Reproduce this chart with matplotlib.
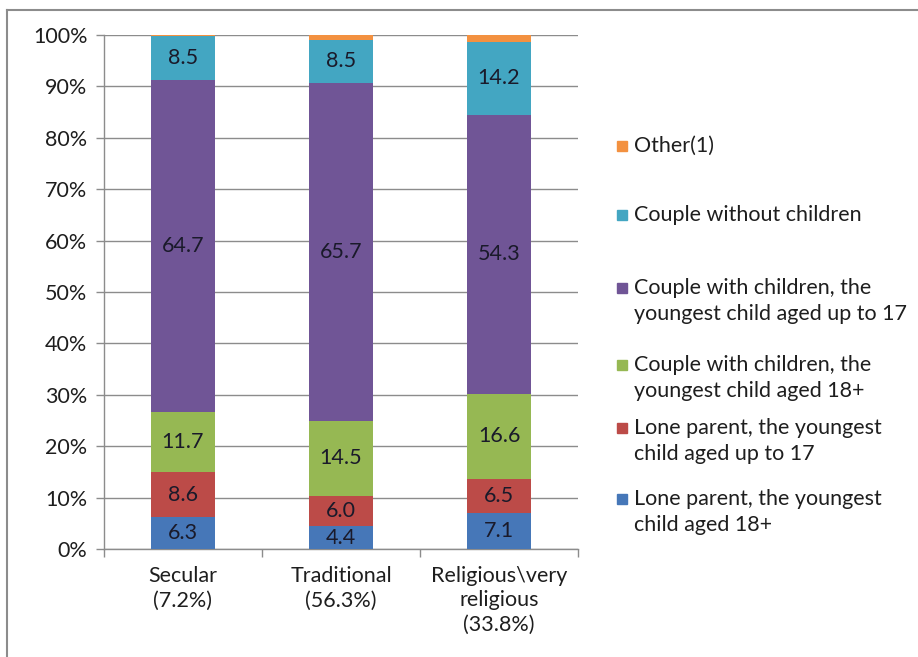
import matplotlib
matplotlib.use("Agg")
import matplotlib.pyplot as plt
from matplotlib.lines import Line2D
from matplotlib.patches import Rectangle
import numpy as np

plt.rcParams["font.family"] = ["Lato", "DejaVu Sans"]

groups = ["Secular\n(7.2%)", "Traditional\n(56.3%)", "Religious\\very\nreligious\n(33.8%)"]

series = [
    "Lone parent, the youngest\nchild aged 18+",
    "Lone parent, the youngest\nchild aged up to 17",
    "Couple with children, the\nyoungest child aged 18+",
    "Couple with children, the\nyoungest child aged up to 17",
    "Couple without children",
    "Other(1)",
]
lone_18 = [6.3, 4.4, 7.1]
lone_17 = [8.6, 6.0, 6.5]
couple_18 = [11.7, 14.5, 16.6]
couple_17 = [64.7, 65.7, 54.3]
couple_none = [8.5, 8.5, 14.2]
other = [0.2, 0.9, 1.3]
values = [lone_18, lone_17, couple_18, couple_17, couple_none, other]
labelled = [True, True, True, True, True, False]

colors = ["#4677b8", "#bc4b48", "#96b853", "#705596", "#43a6c2", "#f39140"]
FS = 15.5
TXT = "#1e1e1e"

fig = plt.figure(figsize=(9.18, 6.57), dpi=100)
ax = fig.add_axes([104 / 918, 108 / 657, 474 / 918, 514 / 657])

x = np.arange(len(groups))
bottom = np.zeros(len(groups))
for vals, col, show in zip(values, colors, labelled):
    vals = np.array(vals)
    ax.bar(x, vals, 0.4, bottom=bottom, color=col, zorder=3)
    if show:
        for xi, b, v in zip(x, bottom, vals):
            ax.text(xi, b + v / 2, f"{v:.1f}", ha="center", va="center",
                    fontsize=FS, color="#1a1a2a", zorder=4)
    bottom += vals

ax.set_xlim(-0.5, 2.5)
ax.set_ylim(0, 100)
ax.set_yticks(np.arange(0, 101, 10))
ax.set_yticklabels([f"{t}%" for t in range(0, 101, 10)], fontsize=FS, color=TXT)
ax.yaxis.grid(True, color="#8c8c8c", linewidth=1, zorder=0)

ax.set_xticks(x)
ax.set_xticklabels(groups, fontsize=FS, color=TXT, linespacing=1.3)
ax.set_xticks([-0.5, 0.5, 1.5, 2.5], minor=True)
ax.tick_params(axis="x", which="major", length=0, pad=12)
ax.tick_params(axis="x", which="minor", length=6, color="#8c8c8c", width=1)
ax.tick_params(axis="y", length=6, color="#8c8c8c", width=1, pad=6)

for side in ["top", "right"]:
    ax.spines[side].set_visible(False)
for side in ["left", "bottom"]:
    ax.spines[side].set_color("#8c8c8c")
    ax.spines[side].set_linewidth(1)

# legend, drawn in figure pixel coordinates from the top
legend_rows = [146, 215, 288, 365, 428, 499]
for name, col, ypix in zip(series[::-1], colors[::-1], legend_rows):
    yf = 1 - ypix / 657
    fig.patches.append(Rectangle((617 / 918, yf - 5 / 657), 10 / 918, 10 / 657,
                                 transform=fig.transFigure, color=col))
    fig.text(634 / 918, yf + 10 / 657, name, ha="left", va="top", fontsize=FS,
             color=TXT, linespacing=1.4)

# chart frame
fig.add_artist(Line2D([7 / 918, 1], [1 - 10 / 657] * 2, color="#8c8c8c", lw=1.5,
                      transform=fig.transFigure))
fig.add_artist(Line2D([7 / 918] * 2, [0, 1 - 10 / 657], color="#8c8c8c", lw=1.5,
                      transform=fig.transFigure))

fig.savefig("out.png", dpi=100)
